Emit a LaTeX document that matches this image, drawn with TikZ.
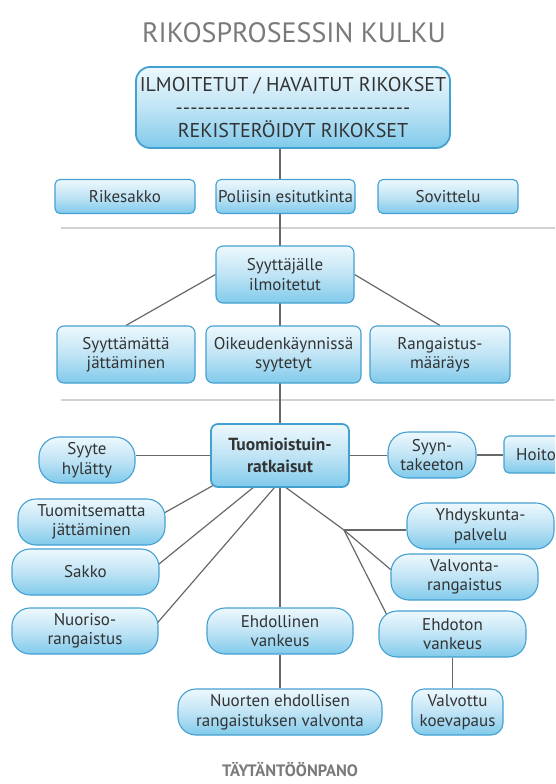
\documentclass[tikz,border=0pt]{standalone}
\usepackage{fontspec}
\setmainfont{PT Sans}
\usetikzlibrary{backgrounds}

\definecolor{boxline}{HTML}{45A0D2}
\definecolor{boxtop}{HTML}{EDF8FD}
\definecolor{boxmid}{HTML}{C0E4F5}
\definecolor{boxbot}{HTML}{80CAEB}
\definecolor{boxtext}{HTML}{333333}
\definecolor{conn}{HTML}{686868}
\definecolor{sep}{HTML}{D2D2D2}
\definecolor{headgray}{HTML}{7A7A7A}

\tikzstyle{box}=[draw=boxline, line width=1.1pt, rounded corners=7pt, top color=boxtop, bottom color=boxbot, middle color=boxmid, text=boxtext, align=center, inner sep=0pt, minimum height=57pt, font=\fontsize{17}{19.5}\selectfont]
\tikzstyle{flat}=[box, rounded corners=5pt, minimum height=34pt]
\tikzstyle{pill}=[box, rounded corners=18pt, minimum height=46pt]
\tikzstyle{link}=[draw=conn, line width=1.2pt]
\tikzstyle{rule}=[draw=sep, line width=2.5pt]

\begin{document}
\begin{tikzpicture}[x=1pt,y=-1pt]
            \clip (0,0) rectangle (555,784);
            \node[font=\fontsize{28}{32}\selectfont, text=headgray] at (294,33) (title) {RIKOSPROSESSIN KULKU};
            % rikokset
            \node[box, line width=1.8pt, rounded corners=14pt, minimum width=314pt, minimum height=81pt, font=\fontsize{20}{23}\selectfont] at (293,107.5) (top) {ILMOITETUT / HAVAITUT RIKOKSET\\ \makebox[235pt]{\xleaders\hbox{-}\hfill}\\ REKISTERÖIDYT RIKOKSET};
            \node[flat, minimum width=140pt] at (125,196.5) (rike) {Rikesakko};
            \node[flat, minimum width=139pt] at (285.5,196.5) (police) {Poliisin esitutkinta};
            \node[flat, minimum width=140pt] at (448,196.5) (sovit) {Sovittelu};
            % syyttaja
            \node[box, minimum width=138pt] at (285,274.5) (prosec) {Syyttäjälle\\ilmoitetut};
            \node[box, minimum width=138pt] at (126,354.5) (waive) {Syyttämättä\\jättäminen};
            \node[box, minimum width=155pt] at (283.5,354.5) (trial) {Oikeudenkäynnissä\\syytetyt};
            \node[box, minimum width=140pt] at (440,354.5) (order) {Rangaistus-\\määräys};
            % tuomioistuin
            \node[box, line width=1.8pt, minimum width=138pt, minimum height=63pt, font=\bfseries\fontsize{17.5}{22}\selectfont] at (280,455.5) (court) {Tuomioistuin-\\ratkaisut};
            \node[pill, rounded corners=20pt, minimum width=96pt] at (87,460) (reject) {Syyte\\hylätty};
            \node[pill, rounded corners=20pt, minimum width=88pt] at (432,455) (insane) {Syyn-\\takeeton};
            \node[flat, minimum width=64pt, minimum height=37pt] at (536,454.5) (care) {Hoito};
            \node[pill, minimum width=147pt] at (91.5,522) (nosent) {Tuomitsematta\\jättäminen};
            \node[pill, minimum width=147pt] at (85.5,572) (fine) {Sakko};
            \node[pill, minimum width=146pt] at (85,631) (youth) {Nuoriso-\\rangaistus};
            \node[pill, minimum width=146pt] at (280,631) (cond) {Ehdollinen\\vankeus};
            \node[pill, minimum width=204pt] at (280,712) (cyouth) {Nuorten ehdollisen\\rangaistuksen valvonta};
            \node[pill, minimum width=147pt] at (480.5,526) (comm) {Yhdyskunta-\\palvelu};
            \node[pill, minimum width=147pt] at (464.5,577) (monit) {Valvonta-\\rangaistus};
            \node[pill, minimum width=147pt] at (452.5,634) (prison) {Ehdoton\\vankeus};
            \node[box, rounded corners=12pt, minimum width=91pt, minimum height=46pt] at (457.5,712) (parole) {Valvottu\\koevapaus};
            \node[font=\bfseries\fontsize{16.5}{20}\selectfont, text=headgray] at (290,770) (foot) {TÄYTÄNTÖÖNPANO};

            \coordinate (axis) at (280,0);
            \coordinate (fork) at (344,530);
            \begin{scope}[on background layer]
            \draw[rule] (61,228) -- (555,228);
            \draw[rule] (61,400) -- (555,400);
            \draw[link] (top.south -| axis) -- (court.north -| axis);
            \draw[link] (prosec.west) -- (waive.north);
            \draw[link] (prosec.east) -- (order.north);
            \draw[link] (court.west) -- (court.west -| reject.east);
            \draw[link] (court.east) -- (court.east -| insane.west);
            \draw[link] (insane.east) -- (insane.east -| care.west);
            \draw[link] ([xshift=4pt,yshift=3pt]court.south west) -- ([xshift=-5pt,yshift=7pt]nosent.east);
            \draw[link] ([xshift=-26pt,yshift=1pt]court.south) -- ([xshift=-3pt,yshift=6pt]fine.east);
            \draw[link] ([xshift=-5pt,yshift=1pt]court.south) -- ([xshift=-3pt,yshift=6pt]youth.east);
            \draw[link] (court.south) -- (cond.north);
            \draw[link] (cond.south) -- (cyouth.north);
            \draw[link] ([xshift=5pt,yshift=1pt]court.south) -- (fork);
            \draw[link] (fork) -- (fork -| comm.west);
            \draw[link] (fork) -- ([xshift=9pt]monit.west);
            \draw[link] (fork) -- ([xshift=16pt,yshift=4pt]prison.west);
            \draw[link] (prison.south) -- (prison.south |- parole.north);
            \end{scope}
        \end{tikzpicture}
\end{document}
